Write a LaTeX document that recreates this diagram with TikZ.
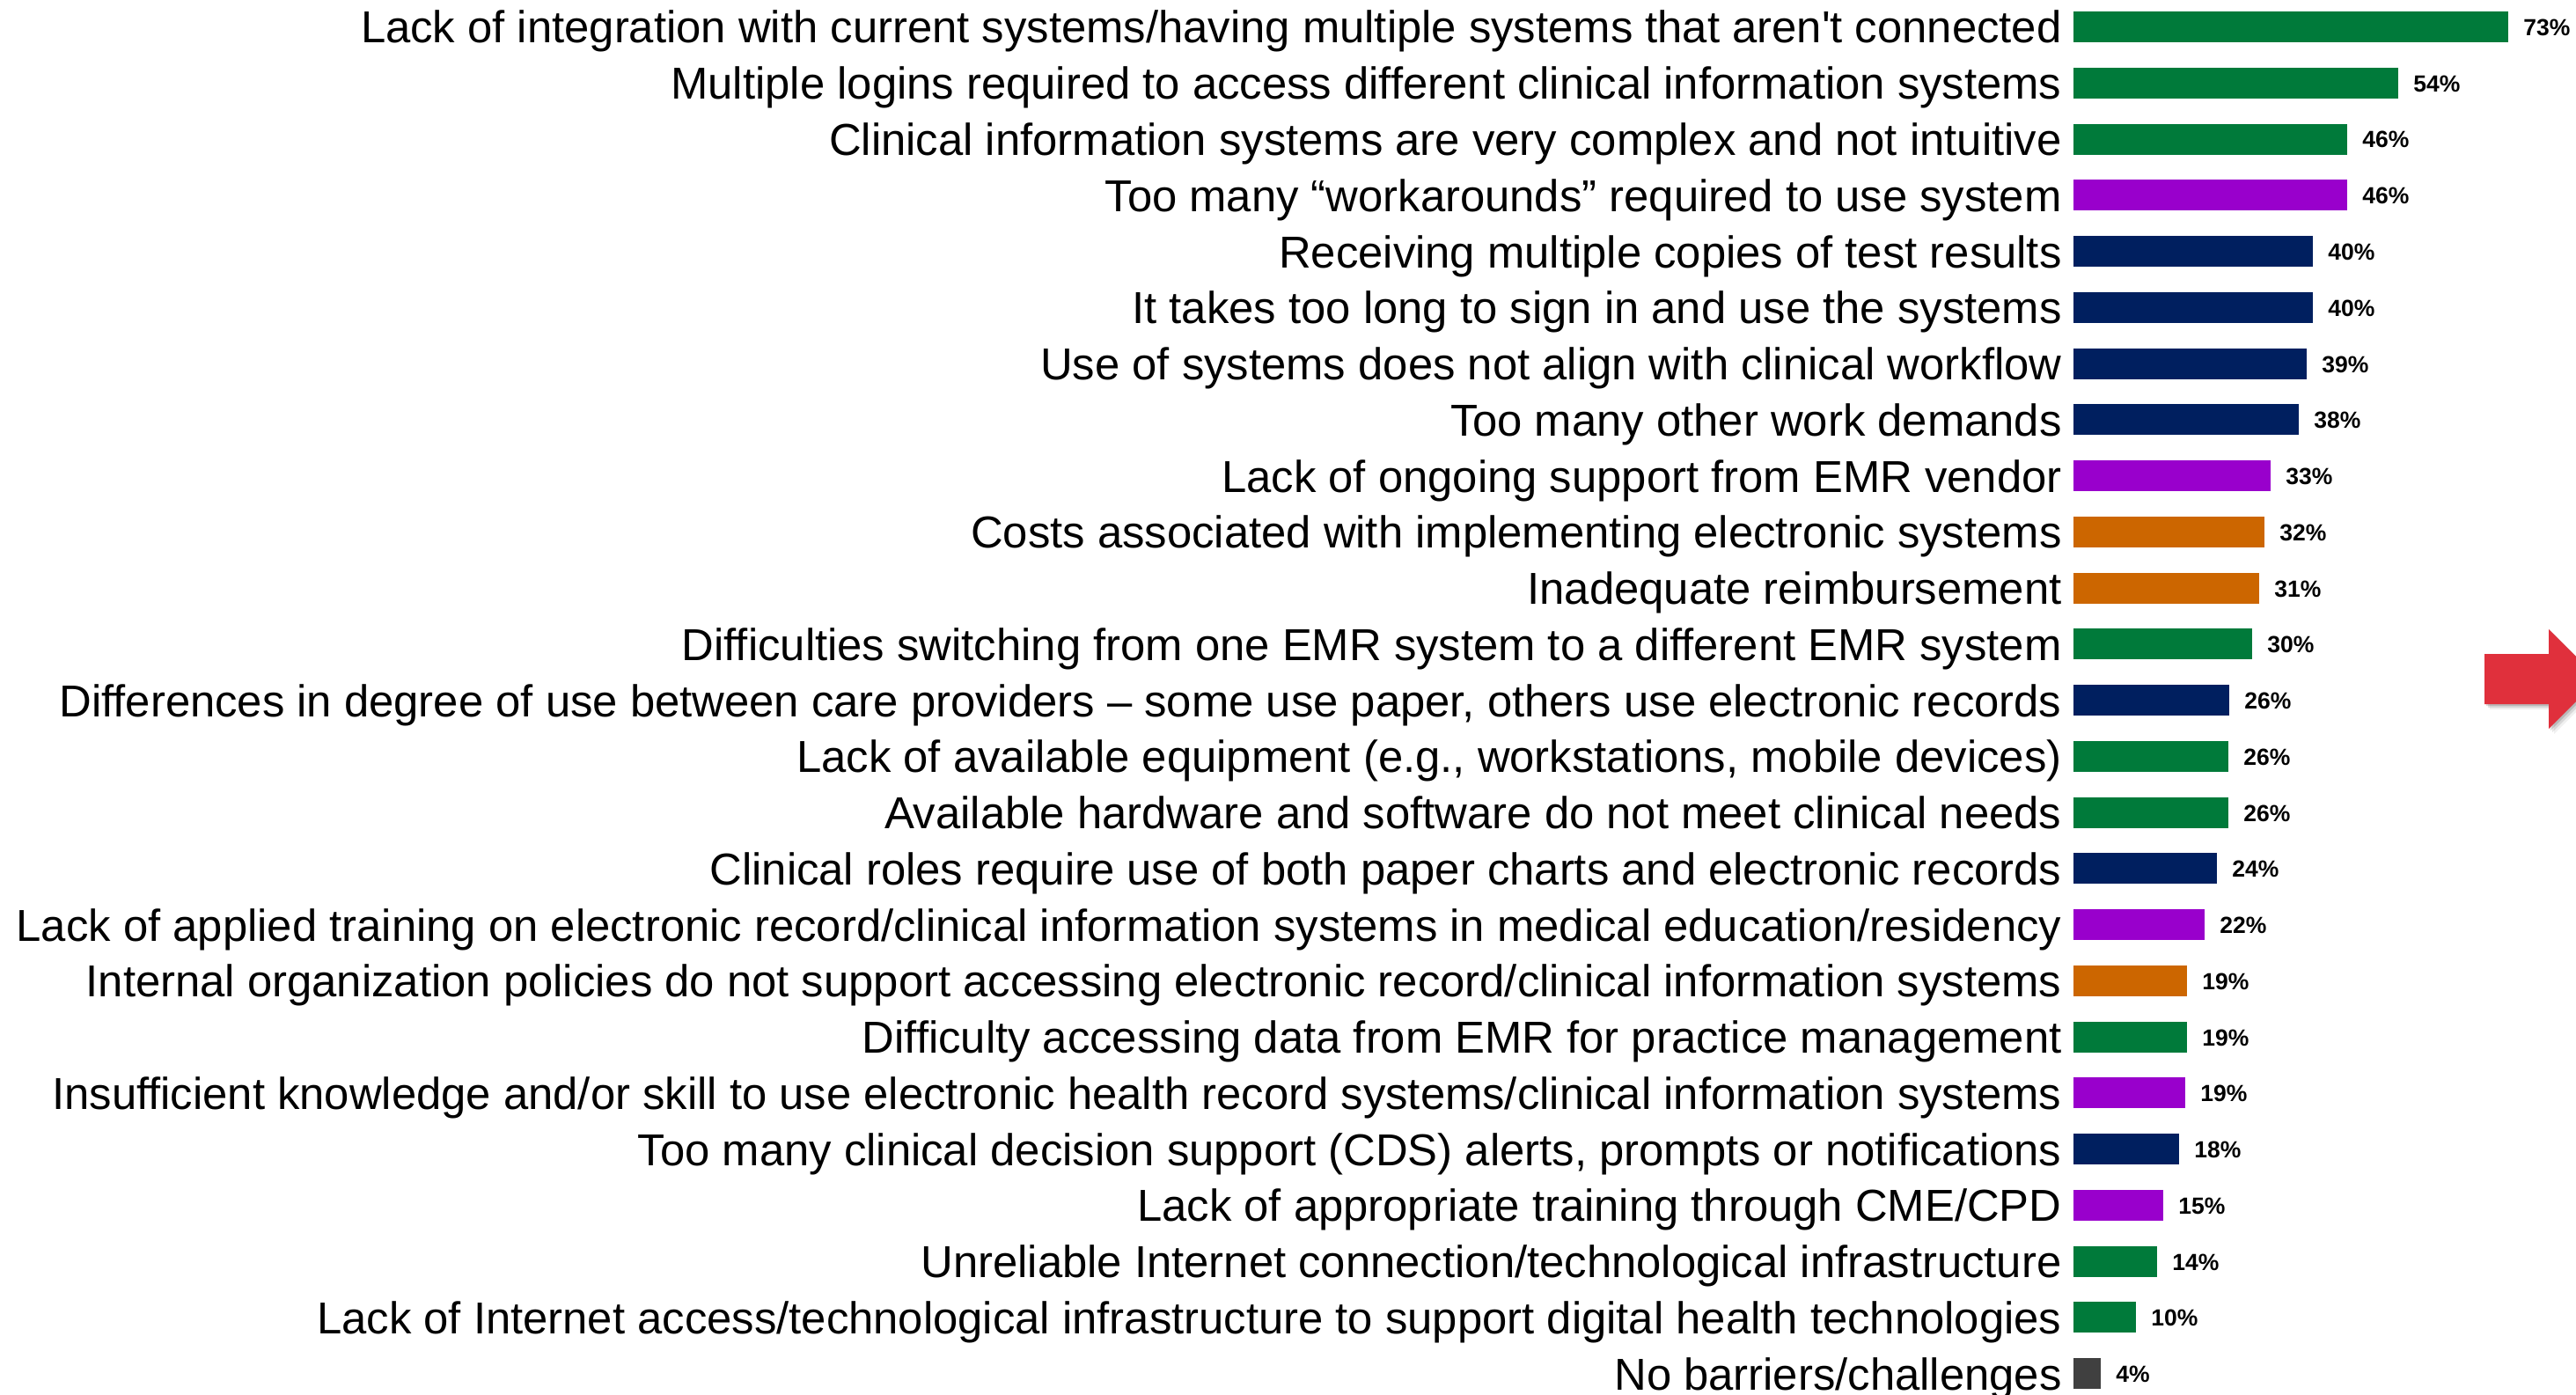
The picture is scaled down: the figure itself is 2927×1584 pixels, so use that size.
\documentclass[tikz,border=0pt]{standalone}
\usepackage{fontspec}
\setmainfont{Liberation Sans}[Ligatures=TeXOff]
\definecolor{cgreen}{RGB}{0,122,58}
\definecolor{cpurple}{RGB}{153,0,204}
\definecolor{cnavy}{RGB}{0,31,95}
\definecolor{corange}{RGB}{204,102,0}
\definecolor{cgray}{RGB}{64,64,64}
\definecolor{cred}{RGB}{224,48,60}
\tikzset{
  lab/.style={anchor=base east, inner sep=0pt, font=\fontsize{25.4pt}{30pt}\selectfont},
  pctlab/.style={anchor=base west, inner sep=0pt, font=\fontsize{13.25pt}{16pt}\selectfont\bfseries},
}
\newcommand\chartrow[5]{% #1 index, #2 text, #3 percent, #4 bar width (px), #5 colour
  \pgfmathsetmacro\yc{30.5+63.75*#1}
  \node[lab] (t#1) at (2343,\yc+18.5) {#2};
  \fill[#5] (2356,\yc-17.5) rectangle (2356+#4,\yc+17.5);
  \node[pctlab] (p#1) at (2356+#4+17,\yc+10) {#3\%};
}
\begin{document}
\begin{tikzpicture}[x=0.5pt,y={(0pt,-0.5pt)}]
\useasboundingbox (0,0) rectangle (2927,1584);
\fill[white] (0,0) rectangle (2927,1584);
\chartrow{0}{Lack of integration with current systems/having multiple systems that aren't connected}{73}{494}{cgreen}
\chartrow{1}{Multiple logins required to access different clinical information systems}{54}{369}{cgreen}
\chartrow{2}{Clinical information systems are very complex and not intuitive}{46}{311}{cgreen}
\chartrow{3}{Too many “workarounds” required to use system}{46}{311}{cpurple}
\chartrow{4}{Receiving multiple copies of test results}{40}{272}{cnavy}
\chartrow{5}{It takes too long to sign in and use the systems}{40}{272}{cnavy}
\chartrow{6}{Use of systems does not align with clinical workflow}{39}{265}{cnavy}
\chartrow{7}{Too many other work demands}{38}{256}{cnavy}
\chartrow{8}{Lack of ongoing support from EMR vendor}{33}{224}{cpurple}
\chartrow{9}{Costs associated with implementing electronic systems}{32}{217}{corange}
\chartrow{10}{Inadequate reimbursement}{31}{211}{corange}
\chartrow{11}{Difficulties switching from one EMR system to a different EMR system}{30}{203}{cgreen}
\chartrow{12}{Differences in degree of use between care providers – some use paper, others use electronic records}{26}{177}{cnavy}
\chartrow{13}{Lack of available equipment (e.g., workstations, mobile devices)}{26}{176}{cgreen}
\chartrow{14}{Available hardware and software do not meet clinical needs}{26}{176}{cgreen}
\chartrow{15}{Clinical roles require use of both paper charts and electronic records}{24}{163}{cnavy}
\chartrow{16}{Lack of applied training on electronic record/clinical information systems in medical education/residency}{22}{149}{cpurple}
\chartrow{17}{Internal organization policies do not support accessing electronic record/clinical information systems}{19}{129}{corange}
\chartrow{18}{Difficulty accessing data from EMR for practice management}{19}{129}{cgreen}
\chartrow{19}{Insufficient knowledge and/or skill to use electronic health record systems/clinical information systems}{19}{127}{cpurple}
\chartrow{20}{Too many clinical decision support (CDS) alerts, prompts or notifications}{18}{120}{cnavy}
\chartrow{21}{Lack of appropriate training through CME/CPD}{15}{102}{cpurple}
\chartrow{22}{Unreliable Internet connection/technological infrastructure}{14}{95}{cgreen}
\chartrow{23}{Lack of Internet access/technological infrastructure to support digital health technologies}{10}{71}{cgreen}
\chartrow{24}{No barriers/challenges}{4}{31}{cgray}
% red arrow (cut off at right edge)
\begin{scope}
\clip (0,0) rectangle (2927,1584);
\foreach \d/\o in {6/0.06,4/0.10,2/0.14}{
  \fill[black,opacity=\o,shift={(\d,\d)}] (2823,743) -- (2896,743) -- (2896,715) -- (2952.5,771.5) -- (2896,828) -- (2896,800) -- (2823,800) -- cycle;
}
\fill[cred] (2823,743) -- (2896,743) -- (2896,715) -- (2952.5,771.5) -- (2896,828) -- (2896,800) -- (2823,800) -- cycle;
\end{scope}
\end{tikzpicture}
\end{document}
